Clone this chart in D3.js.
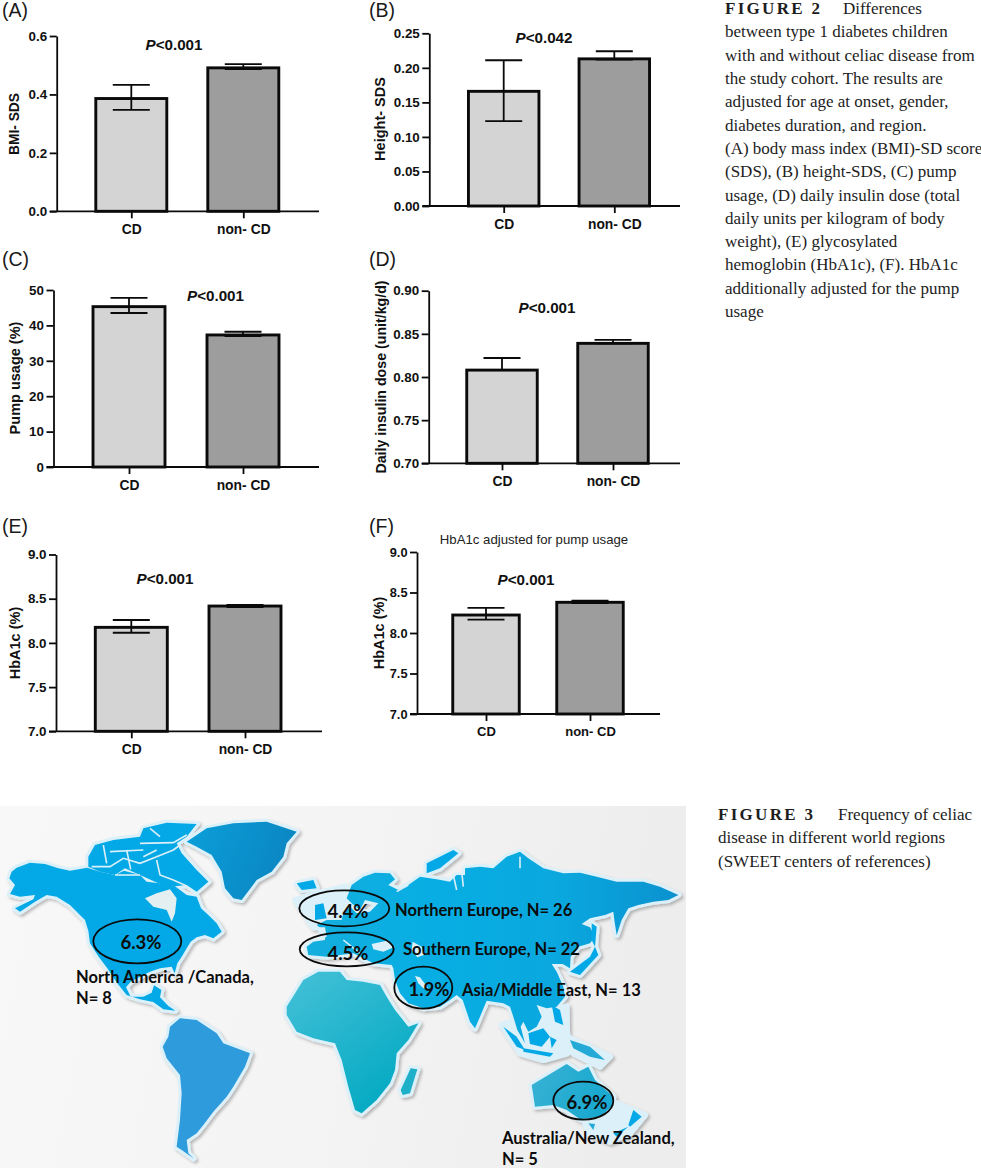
<!DOCTYPE html>
<html><head><meta charset="utf-8">
<script src="https://cdn.jsdelivr.net/npm/d3@7/dist/d3.min.js"></script>
<style>
html,body{margin:0;padding:0;background:#fff}
svg{display:block}
.cap{font-family:"Liberation Serif",serif;font-size:17px;fill:#1d1d1d}
.capb{font-weight:700;letter-spacing:2.3px}
.ax{font-family:"Liberation Sans",Arial,sans-serif}
.mp{font-family:Lato,"Open Sans",sans-serif;font-weight:700;fill:#0c0c0c}
</style></head><body>
<svg id="c" width="981" height="1170" viewBox="0 0 981 1170"></svg>
<script>
// ---------- chart data ----------
const categories = ["CD", "non- CD"];
const panelNames = ["(A)", "(B)", "(C)", "(D)", "(E)", "(F)"];
const yTitles = ["BMI- SDS", "Height- SDS", "Pump usage (%)", "Daily insulin dose (unit/kg/d)", "HbA1c (%)", "HbA1c (%)"];
const pLabels = ["<0.001", "<0.042", "<0.001", "<0.001", "<0.001", "<0.001"];
const yDomains = [[0, 0.6], [0, 0.25], [0, 50], [0.70, 0.90], [7, 9], [7, 9]];
const yTicks = [[0, 0.2, 0.4, 0.6], [0, 0.05, 0.10, 0.15, 0.20, 0.25], [0, 10, 20, 30, 40, 50],
                [0.70, 0.75, 0.80, 0.85, 0.90], [7, 7.5, 8, 8.5, 9], [7, 7.5, 8, 8.5, 9]];
const yFormats = [".1f", ".2f", "d", ".2f", ".1f", ".1f"];
const means = [[0.386, 0.491], [0.166, 0.213], [45.3, 37.3], [0.808, 0.839], [8.176, 8.417], [8.222, 8.379]];
const errLow = [[0.347, 0.487], [0.123, 0.212], [43.5, 37], [0.808, 0.839], [8.115, 8.405], [8.164, 8.37]];
const errHigh = [[0.4325, 0.504], [0.211, 0.224], [47.8, 38.2], [0.822, 0.843], [8.259, 8.43], [8.309, 8.40]];
const barColors = ["#d4d4d4", "#9d9d9d"];
const panelTitleF = "HbA1c adjusted for pump usage";

// ---------- layout of each panel (page pixels) ----------
const axisX = [56.7, 429.3, 53.5, 428.7, 56, 417];
const axisTop = [36, 33.3, 290, 290.7, 554.5, 552];
const axisBottom = [211.3, 206, 467, 463.3, 731.3, 714];
const axisEnd = [319, 680, 319, 680, 322, 660];
const tickCenters = [[131.3, 243.3], [503.7, 614.3], [129, 243], [502, 613], [131.3, 245], [486, 590]];
const barWidths = [71, 70.5, 72, 70.5, 72, 66.5];
const nameXY = [[2, 17], [369, 17], [2, 266], [369, 266], [2, 533], [369, 533]];
const titleXY = [[19, 124], [385, 119], [20, 378], [386, 377], [20, 643], [384, 633]];
const pXY = [[174, 49.5], [544, 42.5], [215.5, 301], [547, 312.5], [165, 583.5], [526, 584.5]];

const svg = d3.select("#c");
const defs = svg.append("defs");

// ---------- bar panels ----------
panelNames.forEach((name, i) => {
  const g = svg.append("g").attr("class", "ax");
  const y = d3.scaleLinear().domain(yDomains[i]).range([axisBottom[i], axisTop[i]]);
  const x = d3.scalePoint().domain(categories).range(tickCenters[i]);
  const rows = categories.map((c, k) => ({c, m: means[i][k], lo: errLow[i][k], hi: errHigh[i][k], fill: barColors[k]}));
  const bw = barWidths[i], capW = 37;

  g.selectAll("rect.bar").data(rows).join("rect").attr("class", "bar")
    .attr("x", d => x(d.c) - bw / 2).attr("width", bw)
    .attr("y", d => y(d.m)).attr("height", d => y(yDomains[i][0]) - y(d.m))
    .attr("fill", d => d.fill).attr("stroke", "#0a0a0a").attr("stroke-width", 2.9);

  const eb = g.selectAll("g.eb").data(rows).join("g").attr("class", "eb")
    .attr("stroke", "#0a0a0a").attr("stroke-width", 1.8);
  eb.append("line").attr("x1", d => x(d.c)).attr("x2", d => x(d.c)).attr("y1", d => y(d.lo)).attr("y2", d => y(d.hi));
  eb.append("line").attr("x1", d => x(d.c) - capW / 2).attr("x2", d => x(d.c) + capW / 2).attr("y1", d => y(d.hi)).attr("y2", d => y(d.hi));
  eb.append("line").attr("x1", d => x(d.c) - capW / 2).attr("x2", d => x(d.c) + capW / 2).attr("y1", d => y(d.lo)).attr("y2", d => y(d.lo));

  const fs = i === 5 ? 12.8 : 13.4;
  const ay = g.append("g").attr("transform", `translate(${axisX[i]},0)`)
    .call(d3.axisLeft(y).tickValues(yTicks[i]).tickFormat(d3.format(yFormats[i])).tickSize(7).tickSizeOuter(0).tickPadding(2.5));
  ay.selectAll("text").attr("font-size", fs).attr("font-weight", 700).attr("fill", "#111");
  ay.selectAll("line,path").attr("stroke", "#0a0a0a").attr("stroke-width", 1.8);

  const ax = g.append("g").attr("transform", `translate(0,${axisBottom[i]})`)
    .call(d3.axisBottom(x).tickSize(7).tickSizeOuter(0).tickPadding(6));
  ax.select("path").remove();
  ax.selectAll("text").attr("font-size", i === 5 ? 13 : 13.8).attr("font-weight", 700).attr("fill", "#111");
  ax.selectAll("line").attr("stroke", "#0a0a0a").attr("stroke-width", 1.8);
  g.append("line").attr("x1", axisX[i] - 7).attr("x2", axisEnd[i]).attr("y1", axisBottom[i]).attr("y2", axisBottom[i])
    .attr("stroke", "#0a0a0a").attr("stroke-width", 1.8);

  g.append("text").attr("x", nameXY[i][0]).attr("y", nameXY[i][1]).attr("font-size", 19.5).attr("fill", "#1a1a1a").text(name);
  g.append("text").attr("transform", `translate(${titleXY[i][0]},${titleXY[i][1]}) rotate(-90)`)
    .attr("text-anchor", "middle").attr("font-size", i === 0 ? 13.8 : i === 3 ? 14.2 : 14.5).attr("font-weight", 700).attr("fill", "#111").text(yTitles[i]);
  const p = g.append("text").attr("x", pXY[i][0]).attr("y", pXY[i][1]).attr("text-anchor", "middle")
    .attr("font-size", 15.2).attr("font-weight", 700).attr("fill", "#111");
  p.append("tspan").attr("font-style", "italic").text("P");
  p.append("tspan").text(pLabels[i]);
  if (i === 5) g.append("text").attr("x", 534).attr("y", 543.5).attr("text-anchor", "middle")
    .attr("font-size", 13.2).attr("fill", "#222").text(panelTitleF);
});

// ---------- captions ----------
const fig2Tail = "Differences";
const fig2Lines = ["between type 1 diabetes children", "with and without celiac disease from", "the study cohort. The results are",
  "adjusted for age at onset, gender,", "diabetes duration, and region.", "(A) body mass index (BMI)-SD score",
  "(SDS), (B) height-SDS, (C) pump", "usage, (D) daily insulin dose (total", "daily units per kilogram of body",
  "weight), (E) glycosylated", "hemoglobin (HbA1c), (F). HbA1c", "additionally adjusted for the pump", "usage"];
const fig3Tail = "Frequency of celiac";
const fig3Lines = ["disease in different world regions", "(SWEET centers of references)"];
svg.append("text").attr("class", "cap capb").attr("x", 725).attr("y", 14).text("FIGURE 2");
svg.append("text").attr("class", "cap").attr("x", 843).attr("y", 14).text(fig2Tail);
svg.append("g").selectAll("text").data(fig2Lines).join("text").attr("class", "cap")
  .attr("x", 725).attr("y", (d, i) => 37.4 + i * 23.3).text(d => d);
svg.append("text").attr("class", "cap capb").attr("x", 718).attr("y", 820).text("FIGURE 3");
svg.append("text").attr("class", "cap").attr("x", 838).attr("y", 820).text(fig3Tail);
svg.append("g").selectAll("text").data(fig3Lines).join("text").attr("class", "cap")
  .attr("x", 718).attr("y", (d, i) => 843.3 + i * 23.3).text(d => d);

// ---------- map ----------
const regionPct = ["6.3%", "4.4%", "4.5%", "1.9%", "6.9%"];
const regionNames = [["North America /Canada,", "N= 8"], ["Northern Europe, N= 26"], ["Southern Europe, N= 22"],
                     ["Asia/Middle East, N= 13"], ["Australia/New Zealand,", "N= 5"]];
const ellipseCx = [137.3, 344.3, 346.7, 423.3, 583.3];
const ellipseCy = [941.3, 908.3, 949.3, 987.7, 1100.7];
const ellipseRx = [44, 45, 47, 29, 30];
const ellipseRy = [22, 18, 17, 21, 19];
const pctXY = [[141, 948.5], [348, 917.5], [348, 959.5], [429, 995.5], [587, 1108.5]];
const nameStart = [[76, 983], [395, 916], [403, 955], [462, 996], [502, 1144]];

// outlines, 3 units per pixel; west is relative to (0,800), east to (280,840)
const west = {
  northAmerica: [[28,235],[35,215],[50,203],[90,188],[135,192],[175,205],[210,212],[262,203],[300,215],[345,225],[372,212],[420,225],[440,245],[478,250],[520,255],[560,285],[590,290],[603,325],[625,345],[650,370],[665,395],[640,415],[615,405],[590,412],[572,425],[560,445],[545,470],[532,490],[524,520],[515,500],[480,505],[450,515],[420,530],[392,545],[378,562],[392,590],[430,590],[455,578],[462,556],[484,570],[480,592],[505,618],[526,632],[490,628],[460,606],[420,598],[380,585],[352,550],[322,505],[296,470],[270,430],[265,392],[255,360],[210,315],[170,290],[140,285],[105,305],[60,335],[45,325],[100,298],[105,285],[60,290],[30,282],[45,255]],
  arctic: [[265,170],[285,135],[340,120],[420,110],[430,85],[500,68],[590,72],[560,110],[530,130],[545,160],[590,210],[625,245],[590,275],[560,255],[510,260],[475,250],[420,225],[375,205],[345,225],[300,215],[265,200]],
  greenland: [[560,125],[620,85],[700,70],[800,65],[890,95],[860,130],[850,170],[815,215],[770,240],[725,300],[700,295],[675,265],[665,215],[635,165],[590,140]],
  southAmerica: [[510,680],[540,655],[590,660],[650,700],[670,730],[750,760],[735,800],[700,860],[680,890],[640,935],[610,975],[590,1000],[560,1020],[565,1060],[580,1075],[545,1050],[530,1040],[540,960],[545,880],[540,825],[500,775],[488,740],[505,710]]
};
const hudson = [[435,295],[470,280],[510,268],[530,295],[525,340],[515,365],[500,330],[460,320]];
const arcticChannels = [[[275,200],[330,200],[370,175],[420,190],[470,170],[520,150],[540,135]],[[310,135],[320,190]],[[380,150],[392,208]],
  [[420,130],[520,128],[560,105]],[[470,180],[480,225],[520,240],[560,258]],[[430,170],[470,150]],[[330,155],[430,150]],[[450,85],[480,110]],[[345,225],[420,225]]];
const east = {
  eurasia: [[80,320],[100,305],[135,300],[135,275],[110,255],[140,240],[185,240],[190,220],[210,200],[230,220],[270,215],[295,190],[255,180],[240,210],[215,190],[200,175],[215,135],[250,110],[285,98],[330,100],[345,118],[325,135],[355,150],[385,135],[420,110],[470,118],[510,125],[530,105],[555,105],[555,85],[600,80],[640,85],[680,50],[720,35],[745,55],[790,85],[850,100],[900,98],[950,110],[1010,125],[1090,125],[1140,140],[1195,165],[1165,180],[1120,185],[1075,195],[1045,205],[1025,240],[1010,285],[1003,240],[1000,215],[975,225],[930,235],[905,252],[930,262],[945,290],[930,310],[895,320],[872,350],[870,385],[848,372],[815,372],[830,395],[850,440],[855,470],[830,500],[800,505],[770,495],[785,530],[770,560],[745,575],[730,545],[722,560],[735,610],[712,570],[700,530],[690,500],[670,490],[640,485],[620,482],[600,530],[585,565],[570,545],[548,480],[530,465],[510,480],[480,500],[430,505],[385,490],[360,460],[345,420],[340,385],[335,375],[280,370],[250,355],[220,340],[180,345],[140,350],[85,345]],
  iceland: [[50,130],[100,120],[110,145],[65,150]],
  britain: [[105,195],[130,190],[140,235],[105,240]],
  novaya: [[440,70],[520,30],[535,40],[480,85],[440,100]],
  japan: [[870,395],[930,350],[945,320],[955,345],[900,405]],
  sakhalin: [[935,250],[950,260],[945,320],[935,300]],
  philippines: [[815,495],[840,510],[850,555],[825,545]],
  borneo: [[745,580],[790,565],[810,590],[785,620],[750,612]],
  sumatra: [[670,560],[710,590],[735,630],[710,620]],
  java: [[730,625],[820,640],[810,650],[730,635]],
  sulawesi: [[810,590],[830,600],[815,625]],
  newGuinea: [[870,600],[930,620],[975,660],[930,650],[880,625]],
  madagascar: [[362,750],[392,685],[412,688],[390,760],[368,765]],
  africa: [[20,500],[70,420],[115,395],[180,395],[200,420],[250,425],[300,435],[320,470],[345,510],[385,560],[415,550],[385,600],[350,640],[345,690],[330,730],[290,780],[245,820],[225,810],[205,740],[185,660],[165,610],[100,595],[50,575],[20,525]],
  australia: [[755,735],[810,702],[860,672],[895,695],[925,680],[945,720],[1000,770],[995,800],[960,830],[900,838],[860,810],[820,795],[765,800]],
  tasmania: [[925,850],[945,852],[940,870]],
  nzNorth: [[1045,855],[1060,810],[1085,830],[1050,860]],
  nzSouth: [[1000,880],[1045,860],[1010,890]]
};
const shelves = [[[45,180],[110,160],[195,140],[210,260],[100,262]],[[665,555],[720,540],[860,500],[862,640],[790,660],[720,640]],[[860,590],[990,650],[960,680],[880,640]],[[900,800],[1010,790],[1095,825],[1050,880],[990,905],[925,880]]];
const lakes = [[[275,312],[320,302],[345,320],[310,335],[280,328]],[[398,305],[425,320],[432,345],[412,352],[395,330]],[[405,408],[420,412],[445,445],[430,445],[415,430]],[[120,300],[140,290],[135,262],[112,262]]];
const coastCuts = [[[520,105],[530,150]],[[545,95],[550,140]],[[350,155],[385,135]],[[190,300],[240,340]],[[720,50],[720,85]]];

const wx = d3.scaleLinear().domain([0, 3]).range([0, 1]), wy = d3.scaleLinear().domain([0, 3]).range([800, 801]);
const ex = d3.scaleLinear().domain([0, 3]).range([280, 281]), ey = d3.scaleLinear().domain([0, 3]).range([840, 841]);
const wLine = d3.line().x(d => wx(d[0])).y(d => wy(d[1])).curve(d3.curveLinearClosed);
const eLine = d3.line().x(d => ex(d[0])).y(d => ey(d[1])).curve(d3.curveLinearClosed);
const wOpen = d3.line().x(d => wx(d[0])).y(d => wy(d[1]));
const eOpen = d3.line().x(d => ex(d[0])).y(d => ey(d[1]));

function grad(id, stops, x2, y2) {
  const g = defs.append("linearGradient").attr("id", id).attr("x1", 0).attr("y1", 0).attr("x2", x2).attr("y2", y2);
  stops.forEach((c, i) => g.append("stop").attr("offset", i / (stops.length - 1)).attr("stop-color", c));
}
grad("bg", ["#f8f8f8", "#f4f4f4", "#ededed"], 1, 0.1);
grad("gEur", ["#14aede", "#07aee3", "#0aa8df", "#0a92cf"], 1, 0);
grad("gAfr", ["#45c1d8", "#02a9c2"], 0.7, 1);
grad("gGre", ["#0b9fd9", "#0a86c2"], 1, 0.3);
grad("gAus", ["#38b2d4", "#19a8cf"], 1, 0.3);
const sh = defs.append("filter").attr("id", "shadow").attr("x", "-5%").attr("y", "-5%").attr("width", "110%").attr("height", "110%");
sh.append("feDropShadow").attr("dx", 2).attr("dy", 2).attr("stdDeviation", 1.6).attr("flood-color", "#000").attr("flood-opacity", 0.25);

const fillOf = k => ({greenland: "url(#gGre)", southAmerica: "#2e9bdc", eurasia: "url(#gEur)", africa: "url(#gAfr)",
  madagascar: "#1fb0c9", australia: "url(#gAus)", newGuinea: "#23aad6", tasmania: "#23aad6"}[k] || "#03a9e6");

svg.append("rect").attr("x", 0).attr("y", 806).attr("width", 686).attr("height", 362).attr("fill", "url(#bg)");
const halo = "#dcf0f9";
const haloG = svg.append("g").attr("filter", "url(#shadow)").attr("fill", halo).attr("stroke", halo).attr("stroke-width", 6).attr("stroke-linejoin", "round");
haloG.selectAll(".w").data(Object.values(west)).join("path").attr("class", "w").attr("d", wLine);
haloG.selectAll(".e").data(Object.values(east)).join("path").attr("class", "e").attr("d", eLine);
haloG.selectAll(".s").data(shelves).join("path").attr("class", "s").attr("d", eLine);

svg.append("g").selectAll("path").data(Object.entries(west)).join("path").attr("d", d => wLine(d[1])).attr("fill", d => fillOf(d[0]));
svg.append("g").selectAll("path").data(Object.entries(east)).join("path").attr("d", d => eLine(d[1])).attr("fill", d => fillOf(d[0]));
svg.append("path").attr("d", wLine(hudson)).attr("fill", "#e3eff1");
svg.append("g").selectAll("path").data(arcticChannels).join("path").attr("d", wOpen).attr("fill", "none").attr("stroke", halo).attr("stroke-width", 1.6);
svg.append("g").selectAll("path").data(lakes).join("path").attr("d", eLine).attr("fill", halo);
svg.append("g").selectAll("path").data(coastCuts).join("path").attr("d", eOpen).attr("fill", "none").attr("stroke", halo).attr("stroke-width", 1.6);

const rg = svg.append("g");
rg.selectAll("ellipse").data(regionPct).join("ellipse")
  .attr("cx", (d, i) => ellipseCx[i]).attr("cy", (d, i) => ellipseCy[i])
  .attr("rx", (d, i) => ellipseRx[i]).attr("ry", (d, i) => ellipseRy[i])
  .attr("fill", "none").attr("stroke", "#0a0a0a").attr("stroke-width", 1.8);
rg.selectAll("text.pct").data(regionPct).join("text").attr("class", "pct mp")
  .attr("x", (d, i) => pctXY[i][0]).attr("y", (d, i) => pctXY[i][1]).attr("text-anchor", "middle")
  .attr("font-size", 18.5).text(d => d);
regionNames.forEach((lines, i) => {
  lines.forEach((t, k) => rg.append("text").attr("class", "mp").attr("x", nameStart[i][0]).attr("y", nameStart[i][1] + k * 21)
    .attr("font-size", 16.5).text(t));
});
</script>
</body></html>
